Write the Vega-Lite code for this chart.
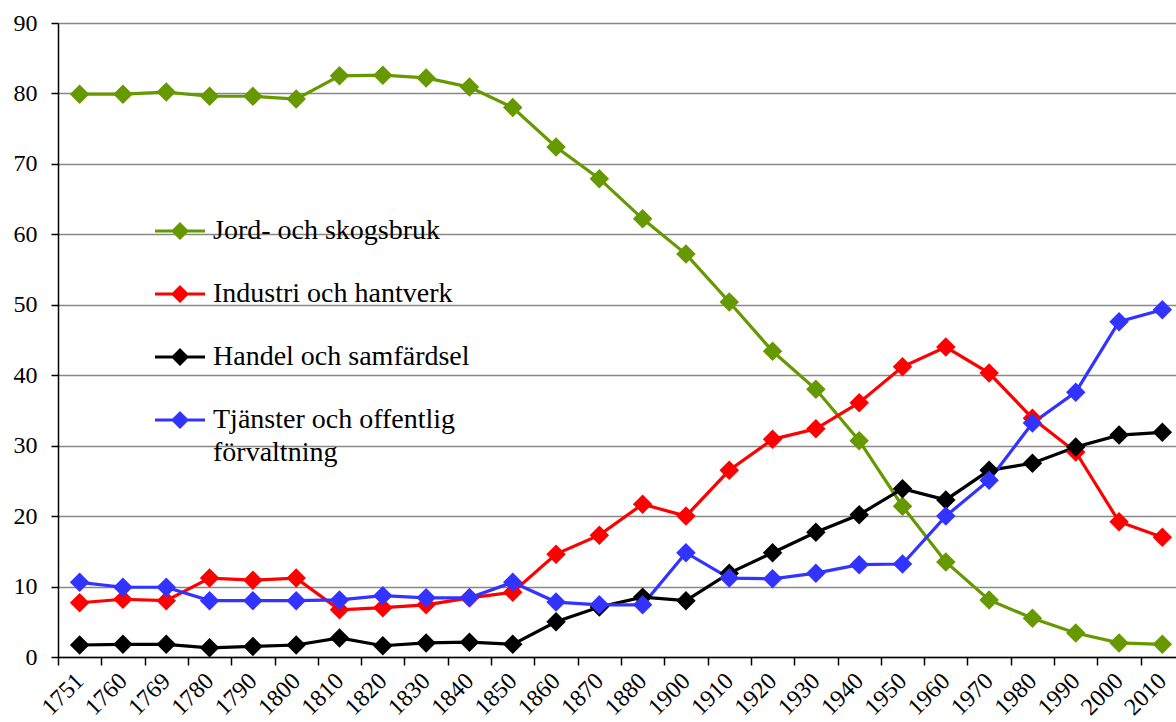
{
  "$schema": "https://vega.github.io/schema/vega-lite/v6.json",
  "width": 1126,
  "height": 634,
  "autosize": "none",
  "padding": {"left": 58, "top": 23, "right": 0, "bottom": 65},
  "background": "white",
  "config": {"view": {"stroke": null}, "font": "Liberation Serif", "axis": {"labelFont": "Liberation Serif"}, "legend": {"labelFont": "Liberation Serif"}},
  "data": {"values": [
    {"year":"1751","series":"Jord- och skogsbruk","value":79.9},
    {"year":"1760","series":"Jord- och skogsbruk","value":79.9},
    {"year":"1769","series":"Jord- och skogsbruk","value":80.2},
    {"year":"1780","series":"Jord- och skogsbruk","value":79.6},
    {"year":"1790","series":"Jord- och skogsbruk","value":79.6},
    {"year":"1800","series":"Jord- och skogsbruk","value":79.2},
    {"year":"1810","series":"Jord- och skogsbruk","value":82.5},
    {"year":"1820","series":"Jord- och skogsbruk","value":82.6},
    {"year":"1830","series":"Jord- och skogsbruk","value":82.2},
    {"year":"1840","series":"Jord- och skogsbruk","value":80.9},
    {"year":"1850","series":"Jord- och skogsbruk","value":78.0},
    {"year":"1860","series":"Jord- och skogsbruk","value":72.4},
    {"year":"1870","series":"Jord- och skogsbruk","value":67.9},
    {"year":"1880","series":"Jord- och skogsbruk","value":62.2},
    {"year":"1900","series":"Jord- och skogsbruk","value":57.2},
    {"year":"1910","series":"Jord- och skogsbruk","value":50.4},
    {"year":"1920","series":"Jord- och skogsbruk","value":43.4},
    {"year":"1930","series":"Jord- och skogsbruk","value":38.0},
    {"year":"1940","series":"Jord- och skogsbruk","value":30.7},
    {"year":"1950","series":"Jord- och skogsbruk","value":21.4},
    {"year":"1960","series":"Jord- och skogsbruk","value":13.5},
    {"year":"1970","series":"Jord- och skogsbruk","value":8.1},
    {"year":"1980","series":"Jord- och skogsbruk","value":5.5},
    {"year":"1990","series":"Jord- och skogsbruk","value":3.4},
    {"year":"2000","series":"Jord- och skogsbruk","value":2.0},
    {"year":"2010","series":"Jord- och skogsbruk","value":1.8},
    {"year":"1751","series":"Industri och hantverk","value":7.7},
    {"year":"1760","series":"Industri och hantverk","value":8.2},
    {"year":"1769","series":"Industri och hantverk","value":8.0},
    {"year":"1780","series":"Industri och hantverk","value":11.2},
    {"year":"1790","series":"Industri och hantverk","value":10.9},
    {"year":"1800","series":"Industri och hantverk","value":11.2},
    {"year":"1810","series":"Industri och hantverk","value":6.7},
    {"year":"1820","series":"Industri och hantverk","value":7.0},
    {"year":"1830","series":"Industri och hantverk","value":7.4},
    {"year":"1840","series":"Industri och hantverk","value":8.4},
    {"year":"1850","series":"Industri och hantverk","value":9.2},
    {"year":"1860","series":"Industri och hantverk","value":14.6},
    {"year":"1870","series":"Industri och hantverk","value":17.3},
    {"year":"1880","series":"Industri och hantverk","value":21.7},
    {"year":"1900","series":"Industri och hantverk","value":20.0},
    {"year":"1910","series":"Industri och hantverk","value":26.5},
    {"year":"1920","series":"Industri och hantverk","value":30.9},
    {"year":"1930","series":"Industri och hantverk","value":32.4},
    {"year":"1940","series":"Industri och hantverk","value":36.1},
    {"year":"1950","series":"Industri och hantverk","value":41.2},
    {"year":"1960","series":"Industri och hantverk","value":44.0},
    {"year":"1970","series":"Industri och hantverk","value":40.3},
    {"year":"1980","series":"Industri och hantverk","value":33.9},
    {"year":"1990","series":"Industri och hantverk","value":29.1},
    {"year":"2000","series":"Industri och hantverk","value":19.2},
    {"year":"2010","series":"Industri och hantverk","value":17.0},
    {"year":"1751","series":"Handel och samfärdsel","value":1.7},
    {"year":"1760","series":"Handel och samfärdsel","value":1.8},
    {"year":"1769","series":"Handel och samfärdsel","value":1.8},
    {"year":"1780","series":"Handel och samfärdsel","value":1.3},
    {"year":"1790","series":"Handel och samfärdsel","value":1.5},
    {"year":"1800","series":"Handel och samfärdsel","value":1.7},
    {"year":"1810","series":"Handel och samfärdsel","value":2.7},
    {"year":"1820","series":"Handel och samfärdsel","value":1.6},
    {"year":"1830","series":"Handel och samfärdsel","value":2.0},
    {"year":"1840","series":"Handel och samfärdsel","value":2.1},
    {"year":"1850","series":"Handel och samfärdsel","value":1.8},
    {"year":"1860","series":"Handel och samfärdsel","value":5.0},
    {"year":"1870","series":"Handel och samfärdsel","value":7.1},
    {"year":"1880","series":"Handel och samfärdsel","value":8.5},
    {"year":"1900","series":"Handel och samfärdsel","value":8.0},
    {"year":"1910","series":"Handel och samfärdsel","value":11.9},
    {"year":"1920","series":"Handel och samfärdsel","value":14.8},
    {"year":"1930","series":"Handel och samfärdsel","value":17.7},
    {"year":"1940","series":"Handel och samfärdsel","value":20.2},
    {"year":"1950","series":"Handel och samfärdsel","value":23.9},
    {"year":"1960","series":"Handel och samfärdsel","value":22.3},
    {"year":"1970","series":"Handel och samfärdsel","value":26.5},
    {"year":"1980","series":"Handel och samfärdsel","value":27.5},
    {"year":"1990","series":"Handel och samfärdsel","value":29.8},
    {"year":"2000","series":"Handel och samfärdsel","value":31.5},
    {"year":"2010","series":"Handel och samfärdsel","value":31.9},
    {"year":"1751","series":"Tjänster och offentlig förvaltning","value":10.6},
    {"year":"1760","series":"Tjänster och offentlig förvaltning","value":9.9},
    {"year":"1769","series":"Tjänster och offentlig förvaltning","value":9.9},
    {"year":"1780","series":"Tjänster och offentlig förvaltning","value":8.0},
    {"year":"1790","series":"Tjänster och offentlig förvaltning","value":8.0},
    {"year":"1800","series":"Tjänster och offentlig förvaltning","value":8.0},
    {"year":"1810","series":"Tjänster och offentlig förvaltning","value":8.1},
    {"year":"1820","series":"Tjänster och offentlig förvaltning","value":8.7},
    {"year":"1830","series":"Tjänster och offentlig förvaltning","value":8.4},
    {"year":"1840","series":"Tjänster och offentlig förvaltning","value":8.4},
    {"year":"1850","series":"Tjänster och offentlig förvaltning","value":10.6},
    {"year":"1860","series":"Tjänster och offentlig förvaltning","value":7.8},
    {"year":"1870","series":"Tjänster och offentlig förvaltning","value":7.4},
    {"year":"1880","series":"Tjänster och offentlig förvaltning","value":7.4},
    {"year":"1900","series":"Tjänster och offentlig förvaltning","value":14.8},
    {"year":"1910","series":"Tjänster och offentlig förvaltning","value":11.2},
    {"year":"1920","series":"Tjänster och offentlig förvaltning","value":11.1},
    {"year":"1930","series":"Tjänster och offentlig förvaltning","value":11.9},
    {"year":"1940","series":"Tjänster och offentlig förvaltning","value":13.1},
    {"year":"1950","series":"Tjänster och offentlig förvaltning","value":13.2},
    {"year":"1960","series":"Tjänster och offentlig förvaltning","value":20.0},
    {"year":"1970","series":"Tjänster och offentlig förvaltning","value":25.1},
    {"year":"1980","series":"Tjänster och offentlig förvaltning","value":33.2},
    {"year":"1990","series":"Tjänster och offentlig förvaltning","value":37.6},
    {"year":"2000","series":"Tjänster och offentlig förvaltning","value":47.6},
    {"year":"2010","series":"Tjänster och offentlig förvaltning","value":49.3}
  ]},
  "encoding": {
    "x": {
      "field": "year", "type": "ordinal", "sort": null,
      "scale": {"type": "band", "paddingInner": 0, "paddingOuter": 0},
      "axis": {
        "title": null, "tickBand": "extent", "grid": false,
        "labelAngle": -45, "labelAlign": "right", "labelBaseline": "middle",
        "labelFont": "Liberation Serif",
        "labelFontSize": 24, "labelPadding": 12, "labelColor": "black",
        "tickColor": "black", "tickSize": 8, "tickWidth": 1.5,
        "domainColor": "black", "domainWidth": 1.5
      }
    },
    "y": {
      "field": "value", "type": "quantitative",
      "scale": {"domain": [0, 90]},
      "axis": {
        "title": null, "values": [0,10,20,30,40,50,60,70,80,90],
        "grid": true, "gridColor": "#888888", "gridWidth": 1.5,
        "tickColor": "black", "tickSize": 7, "tickWidth": 1.5,
        "domainColor": "black", "domainWidth": 1.5,
        "labelFont": "Liberation Serif",
        "labelFontSize": 24, "labelPadding": 14, "labelColor": "black"
      }
    },
    "color": {
      "field": "series", "type": "nominal",
      "scale": {
        "domain": ["Jord- och skogsbruk", "Industri och hantverk", "Handel och samfärdsel", "Tjänster och offentlig förvaltning"],
        "range": ["#669900", "#FF0000", "#000000", "#3333FF"]
      },
      "legend": {
        "title": null, "orient": "none", "legendX": 97, "legendY": 183,
        "padding": 0,
        "symbolType": "M-1,-0.06H1V0.06H-1Z M0,-0.36L0.36,0L0,0.36L-0.36,0Z",
        "symbolSize": 2500, "symbolStrokeWidth": 0,
        "labelFont": "Liberation Serif",
        "labelFontSize": 28, "labelOffset": 8, "rowPadding": 24, "labelLimit": 500,
        "labelColor": "black",
        "labelExpr": "datum.label == 'Tjänster och offentlig förvaltning' ? ['Tjänster och offentlig', 'förvaltning'] : datum.label",
        "encode": {
          "symbols": {"update": {"fill": {"scale": "color", "field": "value"}, "stroke": {"value": "transparent"}, "opacity": {"value": 1}}},
          "labels": {"update": {"lineHeight": {"value": 33}}}
        }
      }
    }
  },
  "layer": [
    {"mark": {"type": "line", "strokeWidth": 3.2}},
    {"mark": {"type": "point", "shape": "diamond", "filled": true, "size": 380, "opacity": 1}}
  ]
}
